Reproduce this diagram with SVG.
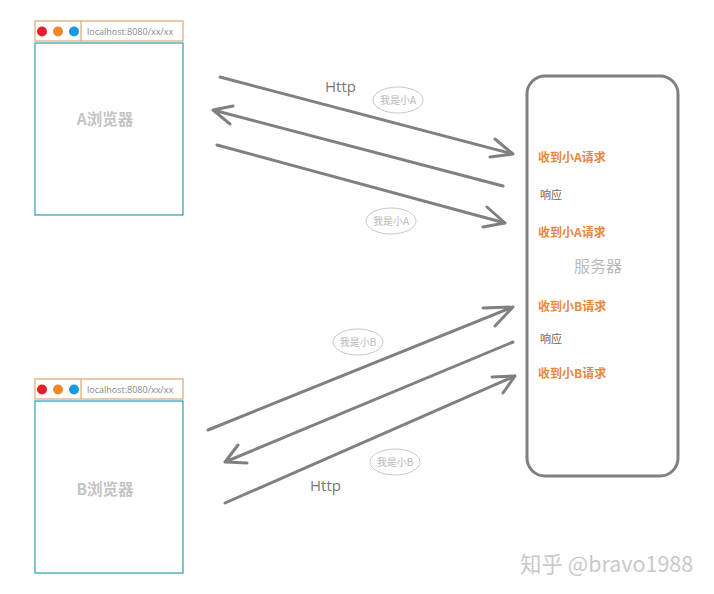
<svg xmlns="http://www.w3.org/2000/svg" width="714" height="594" viewBox="0 0 714 594">
<style>
.hdr{fill:#fff;stroke:#e0a572;stroke-width:1.2}
.body{fill:#fff;stroke:#2a9db5;stroke-width:1.2}
.div{stroke:#e0a572;stroke-width:1.2}
.url{font-family:"Open Sans","Noto Sans",sans-serif;font-size:9px;fill:#888}
.bname{font-family:"Noto Sans CJK SC",sans-serif;font-size:15.5px;font-weight:bold;fill:#c4c4c4;text-anchor:middle}
.arr{stroke:#808080;stroke-width:3;fill:none;stroke-linecap:round;stroke-linejoin:round}
.http{font-family:"Open Sans","Noto Sans",sans-serif;font-size:15px;fill:#777}
.tag{fill:#fff;stroke:#c8c8c8;stroke-width:1}
.tagt{font-family:"Noto Sans CJK SC",sans-serif;font-size:10px;fill:#b8b8b8;text-anchor:middle}
.srv{fill:#fff;stroke:#808080;stroke-width:3}
.req{font-family:"Noto Sans CJK SC",sans-serif;font-size:12px;font-weight:bold;fill:#e8893a}
.resp{font-family:"Noto Sans CJK SC",sans-serif;font-size:11px;fill:#666}
.sname{font-family:"Noto Sans CJK SC",sans-serif;font-size:16px;fill:#bbb;text-anchor:middle}
.wm{font-family:"Noto Sans CJK SC",sans-serif;font-size:21.5px;fill:#c9c9c9}
</style>
<rect width="714" height="594" fill="#fff"/>
<g id="browserA">
<rect class="hdr" x="35" y="21" width="148" height="20"/>
<line class="div" x1="81" y1="21" x2="81" y2="41"/>
<circle cx="42" cy="31.5" r="5" fill="#e41e2b"/>
<circle cx="58" cy="31.5" r="5" fill="#f0882a"/>
<circle cx="74" cy="31.5" r="5" fill="#1a9bdc"/>
<text class="url" x="87" y="35">localhost:8080/xx/xx</text>
<rect class="body" x="35" y="43" width="148" height="172"/>
<text class="bname" x="105" y="125">A浏览器</text>
</g>
<g id="browserB">
<rect class="hdr" x="35" y="379" width="148" height="20"/>
<line class="div" x1="81" y1="379" x2="81" y2="399"/>
<circle cx="42" cy="389.5" r="5" fill="#e41e2b"/>
<circle cx="58" cy="389.5" r="5" fill="#f0882a"/>
<circle cx="74" cy="389.5" r="5" fill="#1a9bdc"/>
<text class="url" x="87" y="393">localhost:8080/xx/xx</text>
<rect class="body" x="35" y="401" width="148" height="172"/>
<text class="bname" x="105" y="495">B浏览器</text>
</g>
<g id="server">
<rect class="srv" x="527" y="76" width="151" height="400" rx="18"/>
<text class="req" x="538" y="162">收到小A请求</text>
<text class="resp" x="540" y="199">响应</text>
<text class="req" x="538" y="237">收到小A请求</text>
<text class="sname" x="598" y="272">服务器</text>
<text class="req" x="538" y="311">收到小B请求</text>
<text class="resp" x="540" y="343">响应</text>
<text class="req" x="538" y="378">收到小B请求</text>
</g>
<g id="connectors">
<path class="arr" d="M220,77 L513,154 M495,139 L513,154 L490,157"/>
<path class="arr" d="M503,186 L213,110 M233,106 L213,110 L230,124"/>
<path class="arr" d="M217,145 L505,223 M487,207 L505,223 L483,227"/>
<path class="arr" d="M208,430 L513,307 M483,308 L513,307 L495,326"/>
<path class="arr" d="M513,342 L225,462 M238,445 L225,462 L247,463"/>
<path class="arr" d="M225,503 L515,376 M492,377 L515,376 L503,393"/>
</g>
<g id="labels">
<text class="http" x="325" y="92">Http</text>
<ellipse class="tag" cx="398" cy="100" rx="25" ry="13"/>
<text class="tagt" x="398" y="104">我是小A</text>
<ellipse class="tag" cx="391" cy="221" rx="25" ry="13"/>
<text class="tagt" x="391" y="225">我是小A</text>
<ellipse class="tag" cx="358" cy="342" rx="25" ry="13"/>
<text class="tagt" x="358" y="346">我是小B</text>
<ellipse class="tag" cx="395" cy="462" rx="25" ry="13"/>
<text class="tagt" x="395" y="466">我是小B</text>
<text class="http" x="310" y="491">Http</text>
</g>
<text class="wm" x="520" y="572">知乎 @bravo1988</text>
</svg>
